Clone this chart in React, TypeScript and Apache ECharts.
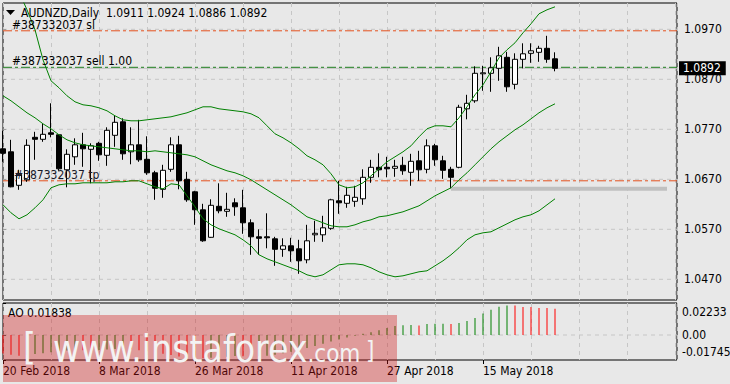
import React, { useEffect, useRef } from "react";
import * as echarts from "echarts";

const symbolName = "AUDNZD";
const timeframe = "Daily";
const orderTicket = "#387332037";
const orderSide = "sell";
const orderLots = "1.00";
const slPrice = 1.0967;
const entryPrice = 1.0894;
const tpPrice = 1.0667;

const dateLabels = ["20 Feb 2018", "8 Mar 2018", "26 Mar 2018", "11 Apr 2018", "27 Apr 2018", "15 May 2018"];
const dateLabelBars = [0, 12, 24, 36, 48, 60];
const priceTicks = [1.047, 1.057, 1.067, 1.077, 1.087, 1.097];
const aoTicks = [0.02233, 0, -0.01745];
const aoTickLabels = ["0.02233", "0.00", "-0.01745"];

const openPrices = [
  1.0731, 1.0725, 1.0658, 1.0669, 1.0754, 1.075, 1.0763, 1.0759, 1.0689, 1.0715,
  1.0739, 1.073, 1.0742, 1.0718, 1.0758, 1.0785, 1.0725, 1.0739, 1.071, 1.0683,
  1.065, 1.069, 1.0739, 1.067, 1.0645, 1.0609, 1.0554, 1.0616, 1.0606, 1.0623,
  1.0613, 1.0583, 1.0555, 1.0555, 1.0551, 1.053, 1.0537, 1.0531, 1.0509, 1.0559,
  1.0559, 1.0572, 1.0627, 1.0622, 1.0626, 1.0631, 1.0674, 1.0694, 1.0694, 1.0692,
  1.0698, 1.0684, 1.0707, 1.069, 1.0737, 1.0707, 1.069, 1.0694, 1.0811, 1.0827,
  1.0881, 1.0882, 1.0892, 1.0914, 1.086, 1.091, 1.0922, 1.0924, 1.0932, 1.0911,
];
const highPrices = [
  1.0767, 1.0749, 1.0689, 1.075, 1.0765, 1.0781, 1.0822, 1.076, 1.073, 1.0752,
  1.0763, 1.0742, 1.0745, 1.0774, 1.0797, 1.0792, 1.0774, 1.0789, 1.0756, 1.0687,
  1.0699, 1.0754, 1.0757, 1.0685, 1.0647, 1.0621, 1.063, 1.0662, 1.0643, 1.0632,
  1.0649, 1.059, 1.057, 1.0602, 1.0555, 1.0552, 1.0553, 1.0549, 1.0579, 1.0587,
  1.0597, 1.0631, 1.0667, 1.0655, 1.0657, 1.069, 1.0709, 1.0722, 1.0715, 1.0709,
  1.0715, 1.0721, 1.0727, 1.075, 1.0741, 1.0717, 1.0695, 1.0819, 1.0839, 1.0896,
  1.0897, 1.0914, 1.0935, 1.0925, 1.0922, 1.0942, 1.0942, 1.0937, 1.0957, 1.0924,
];
const lowPrices = [
  1.0705, 1.0654, 1.0649, 1.0665, 1.0709, 1.0745, 1.0754, 1.0687, 1.0654, 1.0699,
  1.0695, 1.0662, 1.0707, 1.0697, 1.0735, 1.0709, 1.07, 1.0705, 1.0679, 1.0629,
  1.0633, 1.0685, 1.065, 1.0625, 1.0579, 1.0545, 1.0553, 1.0602, 1.0595, 1.0597,
  1.0561, 1.0519, 1.0519, 1.0532, 1.0497, 1.0515, 1.0505, 1.0481, 1.0502, 1.0545,
  1.0545, 1.0569, 1.0601, 1.0613, 1.0615, 1.0619, 1.0663, 1.0674, 1.0674, 1.0675,
  1.0679, 1.0657, 1.0667, 1.0682, 1.0697, 1.0671, 1.0652, 1.0692, 1.079, 1.0823,
  1.0847, 1.0845, 1.0867, 1.0845, 1.085, 1.0892, 1.0903, 1.0905, 1.0903, 1.0886,
];
const closePrices = [
  1.0722, 1.0655, 1.068, 1.0738, 1.075, 1.076, 1.076, 1.0691, 1.072, 1.0739,
  1.0731, 1.0737, 1.0719, 1.0768, 1.0784, 1.0721, 1.0739, 1.0709, 1.0683, 1.0652,
  1.0688, 1.0739, 1.0667, 1.0629, 1.0609, 1.0547, 1.0618, 1.0607, 1.061, 1.0615,
  1.0583, 1.0555, 1.0552, 1.0553, 1.053, 1.0537, 1.0527, 1.0507, 1.0547, 1.0562,
  1.0573, 1.0629, 1.0623, 1.0638, 1.0634, 1.0674, 1.0694, 1.0689, 1.0691, 1.0696,
  1.0687, 1.0706, 1.0689, 1.0737, 1.0709, 1.0688, 1.0674, 1.0814, 1.0822, 1.0882,
  1.0883, 1.0893, 1.0917, 1.0855, 1.091, 1.0921, 1.0927, 1.0932, 1.091, 1.0892,
];
const bbUpper = [
  1.1099, 1.1069, 1.1045, 1.1009, 1.0969, 1.0909, 1.0867, 1.0853, 1.0837, 1.0825,
  1.0819, 1.0817, 1.0813, 1.0807, 1.0797, 1.0789, 1.0787, 1.0787, 1.0789, 1.0791,
  1.0793, 1.0795, 1.0799, 1.0803, 1.0809, 1.0815, 1.0815, 1.0811, 1.0809, 1.0807,
  1.0805, 1.0801, 1.0793, 1.0777, 1.0761, 1.0753, 1.0743, 1.0731, 1.0717, 1.0709,
  1.0699, 1.0681, 1.0659, 1.0653, 1.0655, 1.0663, 1.0677, 1.0691, 1.0705, 1.0715,
  1.0725, 1.0737, 1.0755, 1.0771, 1.0777, 1.0777, 1.0775, 1.0793, 1.0815, 1.0839,
  1.0859, 1.0885, 1.0913, 1.0929, 1.0943, 1.0963, 1.0981, 1.1001, 1.1009, 1.1015,
];
const bbMiddle = [
  1.0837, 1.0827, 1.0815, 1.0803, 1.0793, 1.0781, 1.0771, 1.0759, 1.0749, 1.0743,
  1.0739, 1.0737, 1.0735, 1.0733, 1.0731, 1.0729, 1.0727, 1.0727, 1.0725, 1.0727,
  1.0725, 1.0723, 1.0721, 1.0719, 1.0715, 1.0707, 1.0699, 1.0693, 1.0687, 1.0683,
  1.0677, 1.0669, 1.0659, 1.0649, 1.0639, 1.0629, 1.0619, 1.0607, 1.0595, 1.0589,
  1.0583, 1.0577, 1.0575, 1.0575, 1.0579, 1.0585, 1.0589, 1.0595, 1.0597, 1.0601,
  1.0605, 1.0611, 1.0617, 1.0627, 1.0637, 1.0645, 1.0653, 1.0669, 1.0683, 1.0699,
  1.0715, 1.0731, 1.0745, 1.0757, 1.0769, 1.0779, 1.0791, 1.0803, 1.0813, 1.0821,
];
const bbLower = [
  1.0619, 1.0603, 1.0591, 1.0599, 1.0613, 1.0629, 1.0653, 1.0659, 1.0661, 1.0661,
  1.0663, 1.0663, 1.0663, 1.0663, 1.0665, 1.0665, 1.0667, 1.0667, 1.0661, 1.0655,
  1.0651, 1.0661, 1.0659, 1.0637, 1.0615, 1.0591, 1.0579, 1.0571, 1.0565, 1.0559,
  1.0549, 1.0537, 1.0519, 1.0511, 1.0505, 1.0499, 1.0493, 1.0487, 1.0479, 1.0475,
  1.0479, 1.0489, 1.0499, 1.0501, 1.0501, 1.0499, 1.0493, 1.0485, 1.0479, 1.0475,
  1.0477, 1.0481, 1.0485, 1.0487, 1.0497, 1.0507, 1.0519, 1.0533, 1.0549, 1.0559,
  1.0563, 1.0565, 1.0573, 1.0581, 1.0589, 1.0595, 1.0599, 1.0607, 1.0619, 1.0631,
];
const aoValues = [
  -0.013, -0.0138, -0.0145, -0.014, -0.0133, -0.0127, -0.012, -0.0113, -0.0108, -0.0104,
  -0.0106, -0.0111, -0.0107, -0.0102, -0.0098, -0.0097, -0.01, -0.0106, -0.0113, -0.0122,
  -0.0131, -0.014, -0.015, -0.0156, -0.016, -0.0162, -0.0158, -0.0155, -0.0151, -0.0147,
  -0.0148, -0.0151, -0.0149, -0.0145, -0.0138, -0.0128, -0.0117, -0.0104, -0.009, -0.0076,
  -0.0061, -0.0046, -0.0032, -0.0018, -0.0006, 0.0008, 0.0019, 0.0033, 0.0048, 0.0062,
  0.0068, 0.0069, 0.0067, 0.0077, 0.0078, 0.0079, 0.0076, 0.0084, 0.0097, 0.0118,
  0.015, 0.0176, 0.0198, 0.0206, 0.0205, 0.0196, 0.0195, 0.0189, 0.0188, 0.01838,
];

const zoneBars = [56, 83];
const zonePrices = [1.0655, 1.0647];

const priceMin = 1.04286;
const priceMax = 1.10226;
const barMax = 84.25;
const aoMin = -0.01745;
const aoMax = 0.02233;

const FONT = "'DejaVu Sans Condensed', 'Liberation Sans', Arial, sans-serif";
const FS = 12;
const BG = "#e8e8e8";
const GRID_C = "#c6c6c6";
const ORDER_RED = "#e4521f";
const ORDER_GREEN = "#1f7f1f";
const BAND_GREEN = "#008000";
const AO_UP = "#008000";
const AO_DOWN = "#ff0000";
const WM_TEXT = "#f3f3f3";

function buildOption() {
  const last = closePrices.length - 1;
  const f4 = (v: number) => v.toFixed(4);
  const candleData = closePrices.map((c, i) => [i, openPrices[i], c, lowPrices[i], highPrices[i]]);
  const bandSeries = (name: string, arr: number[]) => ({
    type: "line",
    name,
    xAxisIndex: 0,
    yAxisIndex: 0,
    data: arr.map((v, i) => [i, v]),
    showSymbol: false,
    symbol: "none",
    silent: true,
    z: 3,
    lineStyle: { color: BAND_GREEN, width: 1 },
  });
  const aoData = aoValues.map((v, i) => ({
    value: [i, v],
    itemStyle: { color: i > 0 && v > aoValues[i - 1] ? AO_UP : AO_DOWN },
  }));
  const dash = [9, 3, 3, 3];
  const gridStyle = { color: GRID_C, width: 1, type: [4, 4] };
  const gridLine = { show: true, lineStyle: gridStyle };
  const hLine = (name: string, value: number, lineStyle: any, z: number, axisIndex = 0, extra: any = {}) => ({
    type: "line",
    name,
    xAxisIndex: axisIndex,
    yAxisIndex: axisIndex,
    data: [[0, value], [barMax, value]],
    showSymbol: false,
    symbol: "none",
    silent: true,
    z,
    lineStyle,
    ...extra,
  });
  const header = `${symbolName},${timeframe}  ${f4(openPrices[last])} ${f4(highPrices[last])} ${f4(lowPrices[last])} ${f4(closePrices[last])}`;
  const txt = (text: string, x: number, y: number, extra: any = {}) => ({
    type: "text",
    x,
    y,
    z: 50,
    silent: true,
    style: { text, fill: "#000", fontSize: FS, fontFamily: FONT, verticalAlign: "middle", align: "left", ...extra },
  });

  return {
    animation: false,
    backgroundColor: BG,
    textStyle: { fontFamily: FONT, fontSize: FS, color: "#000" },
    grid: [
      { left: 3, top: 3, width: 674, height: 297, show: true, borderColor: "#000", borderWidth: 1, backgroundColor: "transparent", containLabel: false, outerBoundsMode: "none" },
      { left: 3, top: 303, width: 674, height: 57, show: true, borderColor: "#000", borderWidth: 1, backgroundColor: "transparent", containLabel: false, outerBoundsMode: "none" },
    ],
    xAxis: [
      { type: "value", gridIndex: 0, min: 0, max: barMax, interval: 6, position: "bottom", axisLine: { show: false }, axisTick: { show: false }, axisLabel: { show: false }, splitLine: gridLine },
      { type: "value", gridIndex: 1, min: 0, max: barMax, interval: 6, position: "bottom", axisLine: { show: false }, axisTick: { show: false }, axisLabel: { show: false }, splitLine: gridLine },
      {
        type: "value",
        gridIndex: 1,
        min: 0,
        max: barMax,
        position: "bottom",
        axisLine: { show: false },
        axisTick: { show: true, customValues: dateLabelBars, length: 4, lineStyle: { color: "#000" } },
        axisLabel: {
          show: true,
          customValues: dateLabelBars,
          formatter: (v: number) => dateLabels[dateLabelBars.indexOf(v)] ?? "",
          align: "left",
          margin: 5,
          color: "#000",
          fontFamily: FONT,
          fontSize: FS,
        },
        splitLine: { show: false },
      },
    ],
    yAxis: [
      {
        type: "value",
        gridIndex: 0,
        position: "right",
        min: priceMin,
        max: priceMax,
        axisLine: { show: false },
        axisTick: { show: true, customValues: priceTicks, length: 3, lineStyle: { color: "#000" } },
        axisLabel: { show: true, customValues: priceTicks, formatter: (v: number) => f4(v), margin: 7, color: "#000", fontFamily: FONT, fontSize: FS },
        splitLine: { show: false },
      },
      {
        type: "value",
        gridIndex: 1,
        position: "right",
        min: aoMin,
        max: aoMax,
        axisLine: { show: false },
        axisTick: { show: true, customValues: aoTicks, length: 3, lineStyle: { color: "#000" } },
        axisLabel: {
          show: true,
          customValues: aoTicks,
          formatter: (v: number) => {
            const k = aoTicks.indexOf(v);
            const s = k >= 0 ? aoTickLabels[k] : "";
            return k === 0 ? `{t|${s}}` : k === 2 ? `{b|${s}}` : s;
          },
          rich: {
            t: { padding: [17, 0, 0, 0], fontSize: FS, fontFamily: FONT, color: "#000" },
            b: { padding: [0, 0, 16, 0], fontSize: FS, fontFamily: FONT, color: "#000" },
          },
          margin: 5,
          color: "#000",
          fontFamily: FONT,
          fontSize: FS,
        },
        splitLine: { show: false },
      },
    ],
    series: [
      ...priceTicks.map((p) => hLine(`grid ${f4(p)}`, p, gridStyle, 0)),
      hLine("ao zero", aoTicks[1], gridStyle, 0, 1),
      {
        type: "line",
        name: "zone",
        xAxisIndex: 0,
        yAxisIndex: 0,
        data: [],
        silent: true,
        z: 1,
        markArea: {
          silent: true,
          itemStyle: { color: "#c0c0c0" },
          data: [[{ coord: [zoneBars[0], zonePrices[0]] }, { coord: [zoneBars[1], zonePrices[1]] }]],
        },
      },
      hLine("sl", slPrice, { color: ORDER_RED, width: 1, type: dash }, 1),
      hLine("tp", tpPrice, { color: ORDER_RED, width: 1, type: dash }, 1),
      hLine("bid", closePrices[last], { color: "#c0c0c0", width: 1, type: "solid" }, 1, 0, {
        endLabel: {
          show: true,
          distance: 2,
          formatter: () => f4(closePrices[last]),
          color: "#fff",
          backgroundColor: "#000",
          padding: [1, 5, 1, 4],
          fontSize: FS,
          fontFamily: FONT,
        },
      }),
      hLine("entry", entryPrice, { color: ORDER_GREEN, width: 1, type: dash }, 1),
      {
        type: "candlestick",
        name: symbolName,
        xAxisIndex: 0,
        yAxisIndex: 0,
        data: candleData,
        barWidth: 5,
        z: 2,
        silent: true,
        itemStyle: { color: "#ffffff", color0: "#000000", borderColor: "#000000", borderColor0: "#000000", borderWidth: 1 },
      },
      bandSeries("BB upper", bbUpper),
      bandSeries("BB middle", bbMiddle),
      bandSeries("BB lower", bbLower),
      {
        type: "bar",
        name: "AO",
        xAxisIndex: 1,
        yAxisIndex: 1,
        data: aoData,
        barWidth: 1,
        silent: true,
        z: 2,
      },
    ],
    graphic: {
      elements: [
        { type: "polygon", z: 50, silent: true, shape: { points: [[6, 10], [15, 10], [10.5, 15]] }, style: { fill: "#000" } },
        txt(header, 21, 12.5),
        txt(`${orderTicket} sl`, 12, 24.5),
        txt(`${orderTicket} ${orderSide} ${orderLots}`, 12, 61),
        txt(`${orderTicket} tp`, 14, 175, { fill: "#1a1a2a" }),
        txt(`AO ${aoValues[last].toFixed(5)}`, 8, 313),
        { type: "rect", z: 90, silent: true, shape: { x: 3, y: 315, width: 394, height: 67 }, style: { fill: "rgba(208,20,20,0.36)" } },
        { type: "text", z: 91, silent: true, x: 23, y: 347, style: { text: "[", fill: WM_TEXT, fontSize: 37, fontFamily: FONT, verticalAlign: "middle" } },
        {
          type: "text",
          z: 91,
          silent: true,
          x: 53,
          y: 367.5,
          style: {
            text: "{b|www.instaforex}{c|.com}",
            verticalAlign: "bottom",
            rich: {
              b: { fontSize: 37, fontFamily: FONT, fill: WM_TEXT, verticalAlign: "bottom" },
              c: { fontSize: 24, fontFamily: FONT, fill: WM_TEXT, verticalAlign: "bottom", padding: [0, 0, 2, 0] },
            },
          },
        },
        { type: "text", z: 91, silent: true, x: 366, y: 350.5, style: { text: "]", fill: WM_TEXT, fontSize: 24, fontFamily: FONT, verticalAlign: "middle" } },
      ],
    },
  };
}

export default function App() {
  const ref = useRef<HTMLDivElement>(null);
  useEffect(() => {
    if (!ref.current) return;
    const chart = echarts.init(ref.current, null, { renderer: "svg", width: 730, height: 384 });
    chart.setOption(buildOption() as any);
    return () => chart.dispose();
  }, []);
  return <div ref={ref} style={{ position: "fixed", left: 0, top: 0, width: 730, height: 384 }} />;
}
